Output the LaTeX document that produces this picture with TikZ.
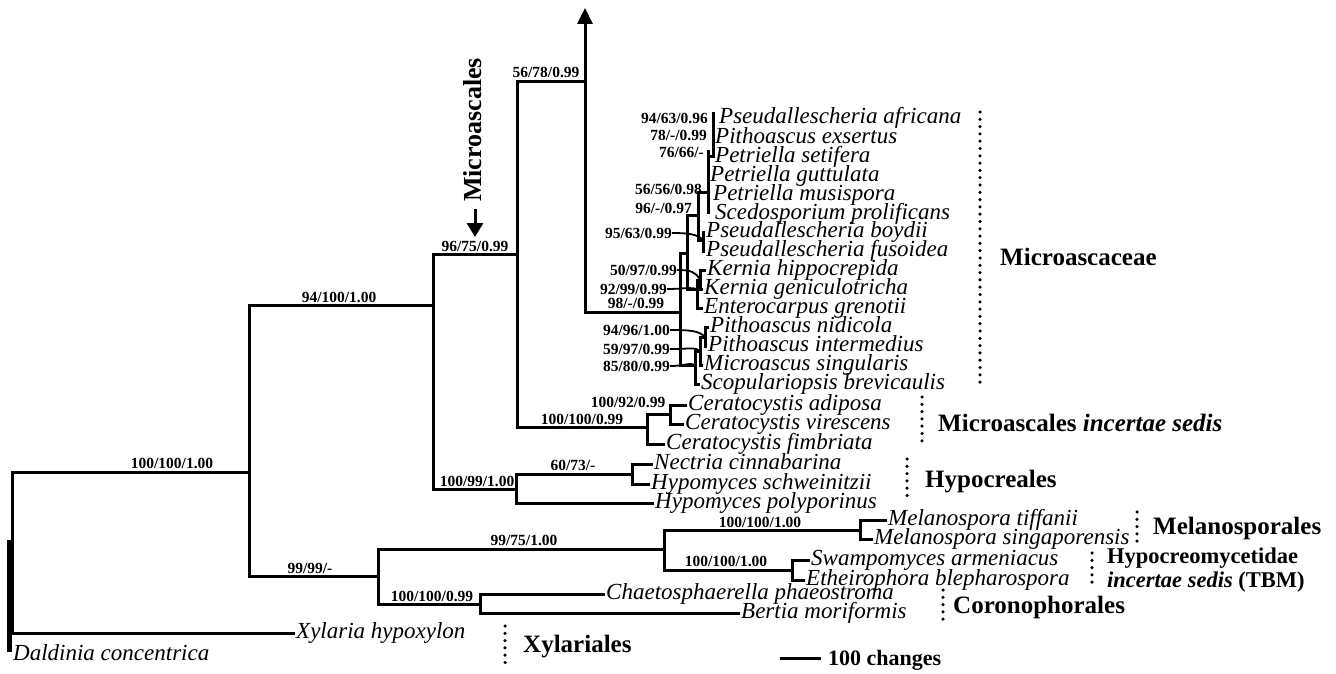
\documentclass[tikz,border=0pt]{standalone}
\usepackage{fontspec}
\setmainfont{Liberation Serif}
\usetikzlibrary{arrows.meta,positioning}

\begin{document}
\begin{tikzpicture}[
    x=1pt, y=-1pt,
    branch/.style={line width=3pt},
    leader/.style={line width=1.8pt},
    support/.style={font=\bfseries\fontsize{15.5}{16}\selectfont, inner sep=0pt},
    taxon/.style={font=\itshape\fontsize{23}{24}\selectfont, anchor=west, inner xsep=1pt, inner ysep=0.5pt, text height=13pt, text depth=3pt},
    group/.style={font=\bfseries\fontsize{25}{26}\selectfont, anchor=west, inner sep=0pt},
    dotline/.style={line width=3.5pt, line cap=round, dash pattern=on 0pt off 7.3pt}
]
\useasboundingbox (0,0) rectangle (1336,674);

% internal nodes
\coordinate (root)    at (12.5,540);
\coordinate (sord)    at (249,472);
\coordinate (hypo)    at (433,305);
\coordinate (lower)   at (378,576);
\coordinate (micro)   at (517,254);
\coordinate (hypoc)   at (516,489);
\coordinate (macea)   at (585,82);
\coordinate (atip)    at (585,8);
\coordinate (cerat)   at (647,427);
\coordinate (cerat2)  at (670,414);
\coordinate (nect)    at (632,474);
\coordinate (melatbm) at (664,549);
\coordinate (mela)    at (860,530);
\coordinate (tbm)     at (792,570);
\coordinate (coron)   at (480,604);
\coordinate (mcore)   at (680,312);
\coordinate (pk)      at (687,253);
\coordinate (pseud)   at (698,215);
\coordinate (comb)    at (708,192);
\coordinate (boyd)    at (703,240);
\coordinate (kern)    at (697,289);
\coordinate (kern2)   at (700,280);
\coordinate (pith)    at (695,365);
\coordinate (pith2)   at (700,351);
\coordinate (pith3)   at (705,337);
\coordinate (combtop) at (708,150);
\coordinate (combbot) at (708,214);
\coordinate (afrtop)  at (713,112);
\coordinate (setbot)  at (713,158);
\coordinate (settick) at (706.5,157);
\coordinate (daltop)  at (9.5,540);
\coordinate (dalbot)  at (9.5,652);

% taxa
\node[taxon] (afr)  at (718,119) {Pseudallescheria africana};
\node[taxon] (exs)  at (714,138) {Pithoascus exsertus};
\node[taxon] (set)  at (714,157) {Petriella setifera};
\node[taxon] (gut)  at (709,176) {Petriella guttulata};
\node[taxon] (mus)  at (712,195) {Petriella musispora};
\node[taxon] (sce)  at (714,214) {Scedosporium prolificans};
\node[taxon] (boy)  at (705,232) {Pseudallescheria boydii};
\node[taxon] (fus)  at (705,251) {Pseudallescheria fusoidea};
\node[taxon] (hip)  at (706,270) {Kernia hippocrepida};
\node[taxon] (gen)  at (703,289) {Kernia geniculotricha};
\node[taxon] (ent)  at (703,308) {Enterocarpus grenotii};
\node[taxon] (nid)  at (709,327) {Pithoascus nidicola};
\node[taxon] (int)  at (707,346) {Pithoascus intermedius};
\node[taxon] (sin)  at (703,365) {Microascus singularis};
\node[taxon] (bre)  at (700,384) {Scopulariopsis brevicaulis};
\node[taxon] (adi)  at (687,405) {Ceratocystis adiposa};
\node[taxon] (vir)  at (684,424) {Ceratocystis virescens};
\node[taxon] (fim)  at (665,444) {Ceratocystis fimbriata};
\node[taxon] (nec)  at (653,464) {Nectria cinnabarina};
\node[taxon] (sch)  at (650,484) {Hypomyces schweinitzii};
\node[taxon] (pol)  at (654,503) {Hypomyces polyporinus};
\node[taxon] (tif)  at (887,520) {Melanospora tiffanii};
\node[taxon] (sing) at (873,539) {Melanospora singaporensis};
\node[taxon] (swa)  at (810,560) {Swampomyces armeniacus};
\node[taxon] (eth)  at (805,580) {Etheirophora blepharospora};
\node[taxon] (cha)  at (605,594) {Chaetosphaerella phaeostroma};
\node[taxon] (ber)  at (740,613) {Bertia moriformis};
\node[taxon] (xyl)  at (295,633) {Xylaria hypoxylon};
\node[taxon] (dal)  at (12,655) {Daldinia concentrica};

% branches
\draw[branch] (root) |- (sord);
\draw[branch] (root) |- (xyl.west);
\draw[line width=4.4pt] (daltop) -- (dalbot);
\draw[branch] (sord) |- (hypo);
\draw[branch] (sord) |- (lower);
\draw[branch] (hypo) |- (micro);
\draw[branch] (hypo) |- (hypoc);
\draw[branch] (micro) |- (macea);
\draw[branch] (micro) |- (cerat);
\draw[branch, -{Triangle[length=16pt,width=15pt]}] (macea) -- (atip);
\draw[branch] (macea) |- (mcore);
\draw[branch] (mcore) |- (pk);
\draw[branch] (mcore) |- (pith);
\draw[branch] (pk) |- (pseud);
\draw[branch] (pk) |- (kern);
\draw[branch] (pseud) |- (comb);
\draw[branch] (pseud) |- (boyd);
\draw[branch] (combtop) -- (combbot);
\draw[branch] (afrtop) -- (setbot);
\draw[branch] (settick) -- (set.west);
\draw[branch] (boyd) |- (boy.west);
\draw[branch] (boyd) |- (fus.west);
\draw[branch] (kern) |- (kern2);
\draw[branch] (kern) |- (ent.west);
\draw[branch] (kern2) |- (hip.west);
\draw[branch] (kern2) |- (gen.west);
\draw[branch] (pith) |- (pith2);
\draw[branch] (pith) |- (bre.west);
\draw[branch] (pith2) |- (pith3);
\draw[branch] (pith2) |- (sin.west);
\draw[branch] (pith3) |- (nid.west);
\draw[branch] (pith3) |- (int.west);
\draw[branch] (cerat) |- (cerat2);
\draw[branch] (cerat) |- (fim.west);
\draw[branch] (cerat2) |- (adi.west);
\draw[branch] (cerat2) |- (vir.west);
\draw[branch] (hypoc) |- (nect);
\draw[branch] (hypoc) |- (pol.west);
\draw[branch] (nect) |- (nec.west);
\draw[branch] (nect) |- (sch.west);
\draw[branch] (lower) |- (melatbm);
\draw[branch] (lower) |- (coron);
\draw[branch] (melatbm) |- (mela);
\draw[branch] (melatbm) |- (tbm);
\draw[branch] (mela) |- (tif.west);
\draw[branch] (mela) |- (sing.west);
\draw[branch] (tbm) |- (swa.west);
\draw[branch] (tbm) |- (eth.west);
\draw[branch] (coron) |- (cha.west);
\draw[branch] (coron) |- (ber.west);

% support values
\node[support] (s-sord)  at (172,463) {100/100/1.00};
\node[support] (s-hypo)  at (339,297) {94/100/1.00};
\node[support] (s-lower) at (310,568) {99/99/-};
\node[support] (s-micro) at (475,246) {96/75/0.99};
\node[support] (s-hypoc) at (477,481) {100/99/1.00};
\node[support] (s-macea) at (546,72)  {56/78/0.99};
\node[support] (s-cerat) at (582,419) {100/100/0.99};
\node[support] (s-cer2)  at (628,402) {100/92/0.99};
\node[support] (s-nect)  at (573,465) {60/73/-};
\node[support] (s-mt)    at (524,540) {99/75/1.00};
\node[support] (s-mela)  at (760,522) {100/100/1.00};
\node[support] (s-tbm)   at (726,561) {100/100/1.00};
\node[support] (s-coron) at (432,596) {100/100/0.99};
\node[support] (s-mcore) at (636,303) {98/-/0.99};
\node[support, anchor=east] (s-afr)  at (708,118) {94/63/0.96};
\node[support, anchor=east] (s-exs)  at (707,135) {78/-/0.99};
\node[support, anchor=east] (s-set)  at (704,152) {76/66/-};
\node[support, anchor=east] (s-pse)  at (702,189) {56/56/0.98};
\node[support, anchor=east] (s-pk)   at (692,208) {96/-/0.97};
\node[support, anchor=east] (s-boyd) at (672,233) {95/63/0.99};
\node[support, anchor=east] (s-ker2) at (677,270) {50/97/0.99};
\node[support, anchor=east] (s-kern) at (667,289) {92/99/0.99};
\node[support, anchor=east] (s-pit3) at (670,330) {94/96/1.00};
\node[support, anchor=east] (s-pit2) at (670,349) {59/97/0.99};
\node[support, anchor=east] (s-pith) at (670,366) {85/80/0.99};

% leaders
\draw[leader] (s-boyd.east) .. controls +(16,0) and +(-6,-6) .. (boyd);
\draw[leader] (s-ker2.east) .. controls +(14,0) and +(-4,-8) .. (kern2);
\draw[leader] (s-kern.east) .. controls +(16,0) and +(-8,-2) .. (kern);
\draw[leader] (s-pit3.east) .. controls +(22,0) and +(-6,-6) .. (pith3);
\draw[leader] (s-pit2.east) .. controls +(18,0) and +(-4,-4) .. (pith2);
\draw[leader] (s-pith.east) .. controls +(16,0) and +(-6,-3) .. (pith);

% Microascales pointer
\coordinate (mdown1) at (475,209);
\coordinate (mdown2) at (475,237);
\node[font=\bfseries\fontsize{26}{26}\selectfont, rotate=90, inner sep=0pt] (lab-micro) at (473,130) {Microascales};
\draw[line width=3pt, -{Triangle[length=14pt,width=16pt]}] (mdown1) -- (mdown2);

% groups
\draw[dotline] (980,112) -- (980,387);
\node[group] (g-mcea) at (1000,257) {Microascaceae};
\draw[dotline] (922,397) -- (922,444);
\node[group] (g-mis) at (938,423) {Microascales \textit{incertae sedis}};
\draw[dotline] (907,459) -- (907,501);
\node[group] (g-hyp) at (925,482) {Hypocreales};
\draw[dotline] (1137,512) -- (1137,543);
\node[group] (g-mel) at (1153,528) {Melanosporales};
\draw[dotline] (1092,553) -- (1092,583);
\node[group, font=\bfseries\fontsize{22.5}{23}\selectfont] (g-tbm1) at (1107,558) {Hypocreomycetidae};
\node[group, font=\bfseries\fontsize{22.5}{23}\selectfont] (g-tbm2) at (1107,582) {\textit{incertae sedis} (TBM)};
\draw[dotline] (943,590) -- (943,623);
\node[group] (g-cor) at (953,607) {Coronophorales};
\draw[dotline] (505,626) -- (505,664);
\node[group] (g-xyl) at (523,647) {Xylariales};

% scale bar
\coordinate (sb1) at (780,658);
\coordinate (sb2) at (821,658);
\draw[branch] (sb1) -- (sb2);
\node[group, font=\bfseries\fontsize{22}{23}\selectfont] (sb-lab) at (828,660) {100 changes};
\end{tikzpicture}
\end{document}
